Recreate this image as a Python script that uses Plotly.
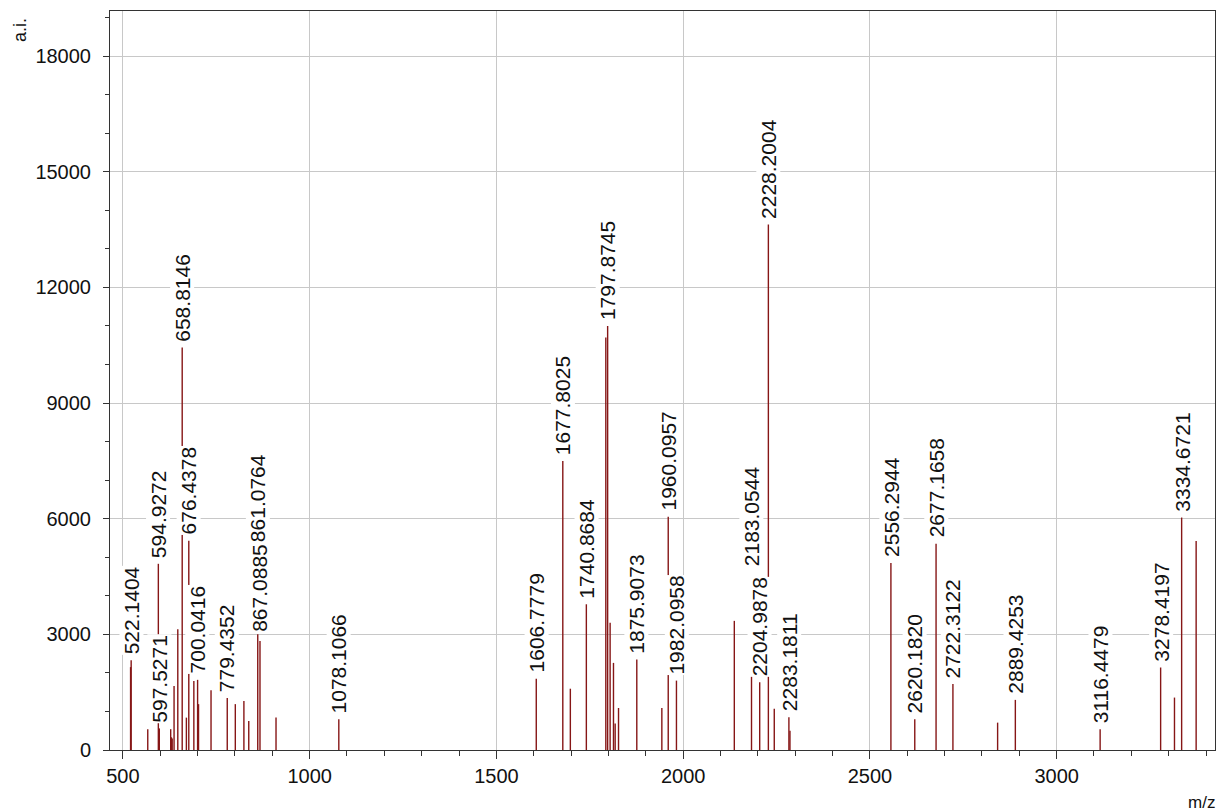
import plotly.graph_objects as go

# Labeled peaks (m/z, intensity a.i.)
label_mz = [522.1404, 594.9272, 597.5271, 658.8146, 676.4378, 700.0416, 779.4352,
            861.0764, 867.0885, 1078.1066, 1606.7779, 1677.8025, 1740.8684, 1797.8745,
            1875.9073, 1960.0957, 1982.0958, 2183.0544, 2204.9878, 2228.2004, 2283.1811,
            2556.2944, 2620.1820, 2677.1658, 2722.3122, 2889.4253, 3116.4479, 3278.4197,
            3334.6721]
label_int = [2330, 4830, 560, 10440, 5430, 1820, 1350,
             3000, 2830, 800, 1850, 7500, 3780, 11000,
             2350, 6050, 1800, 2000, 1760, 13630, 850,
             4850, 800, 5350, 1710, 1300, 540, 2140,
             6030]

# Unlabeled peaks
other_mz = [520.6, 566.6, 628.0, 630.0, 632.0, 637.0, 647.0, 670.0, 690.0, 702.5,
            736.0, 801.0, 824.0, 837.0, 910.0, 1698.0, 1793.0, 1804.5, 1813.5,
            1818.0, 1827.0, 1943.0, 2137.0, 2244.0, 2286.0, 2842.0, 3315.5, 3373.5]
other_int = [2150, 540, 540, 330, 300, 1660, 3130, 840, 1790, 1190,
             1550, 1190, 1270, 750, 840, 1590, 10700, 3300, 2260,
             690, 1090, 1090, 3350, 1070, 500, 710, 1360, 5420]

# Labels that the instrument software stacked higher to avoid overlap
label_base_override = {861.0764: 5230, 867.0885: 2910, 2183.0544: 4600}

x_ticks = [500, 1000, 1500, 2000, 2500, 3000]
y_ticks = [0, 3000, 6000, 9000, 12000, 15000, 18000]

all_mz = label_mz + other_mz
all_int = label_int + other_int

xs, ys = [], []
for m, v in zip(all_mz, all_int):
    xs += [m, m, None]
    ys += [0, v, None]

FONT = "Liberation Sans, Arial, sans-serif"
LINE_COLOR = "#861616"
TEXT = "#111"

fig = go.Figure()
fig.add_trace(go.Scatter(x=xs, y=ys, mode="lines",
                         line=dict(color=LINE_COLOR, width=1.4),
                         hoverinfo="skip", showlegend=False))

annotations = []
for m, v in zip(label_mz, label_int):
    base = label_base_override.get(m, v)
    annotations.append(dict(
        x=m, y=base, xref="x", yref="y", text=f"{m:.4f}",
        showarrow=False, textangle=-90, xanchor="center", yanchor="bottom",
        yshift=5, bgcolor="white", borderpad=0,
        font=dict(family=FONT, size=21, color=TEXT)))

annotations.append(dict(x=0, y=1, xref="paper", yref="paper", text="a.i.",
                        showarrow=False, textangle=-90, xanchor="center", yanchor="top",
                        xshift=-90, yshift=-5, font=dict(family=FONT, size=18, color=TEXT)))
annotations.append(dict(x=1, y=0, xref="paper", yref="paper", text="m/z",
                        showarrow=False, xanchor="right", yanchor="middle",
                        xshift=2, yshift=-52, font=dict(family=FONT, size=17, color=TEXT)))

fig.update_layout(
    width=1219, height=812,
    margin=dict(l=110, r=4, t=11, b=62),
    plot_bgcolor="white", paper_bgcolor="white",
    font=dict(family=FONT, size=20, color=TEXT),
    showlegend=False,
    annotations=annotations,
    xaxis=dict(range=[465.5, 3424], tickvals=x_ticks, ticktext=[str(t) for t in x_ticks],
               automargin=False,
               showgrid=True, gridcolor="#c8c8c8", gridwidth=1, zeroline=False,
               showline=True, linecolor="#333", linewidth=1, mirror=True,
               ticks="outside", ticklen=8, tickcolor="#333",
               tickfont=dict(family=FONT, size=20, color=TEXT),
               minor=dict(dtick=100, tick0=0, ticks="outside", ticklen=5,
                          tickcolor="#333", showgrid=False)),
    yaxis=dict(range=[0, 19170], tickvals=y_ticks, ticktext=[str(t) for t in y_ticks],
               automargin=False,
               showgrid=True, gridcolor="#c8c8c8", gridwidth=1, zeroline=False,
               showline=True, linecolor="#333", linewidth=1, mirror=True,
               ticks="outside", ticklen=6, tickcolor="#333", ticklabelstandoff=8,
               tickfont=dict(family=FONT, size=20, color=TEXT),
               minor=dict(dtick=1000, tick0=0, ticks="outside", ticklen=4,
                          tickcolor="#333", showgrid=False)),
)

fig.write_html("out.html",
               config={"displayModeBar": False, "staticPlot": True},
               post_script="document.body.style.margin='0px';"
                           "document.body.style.overflow='hidden';")
